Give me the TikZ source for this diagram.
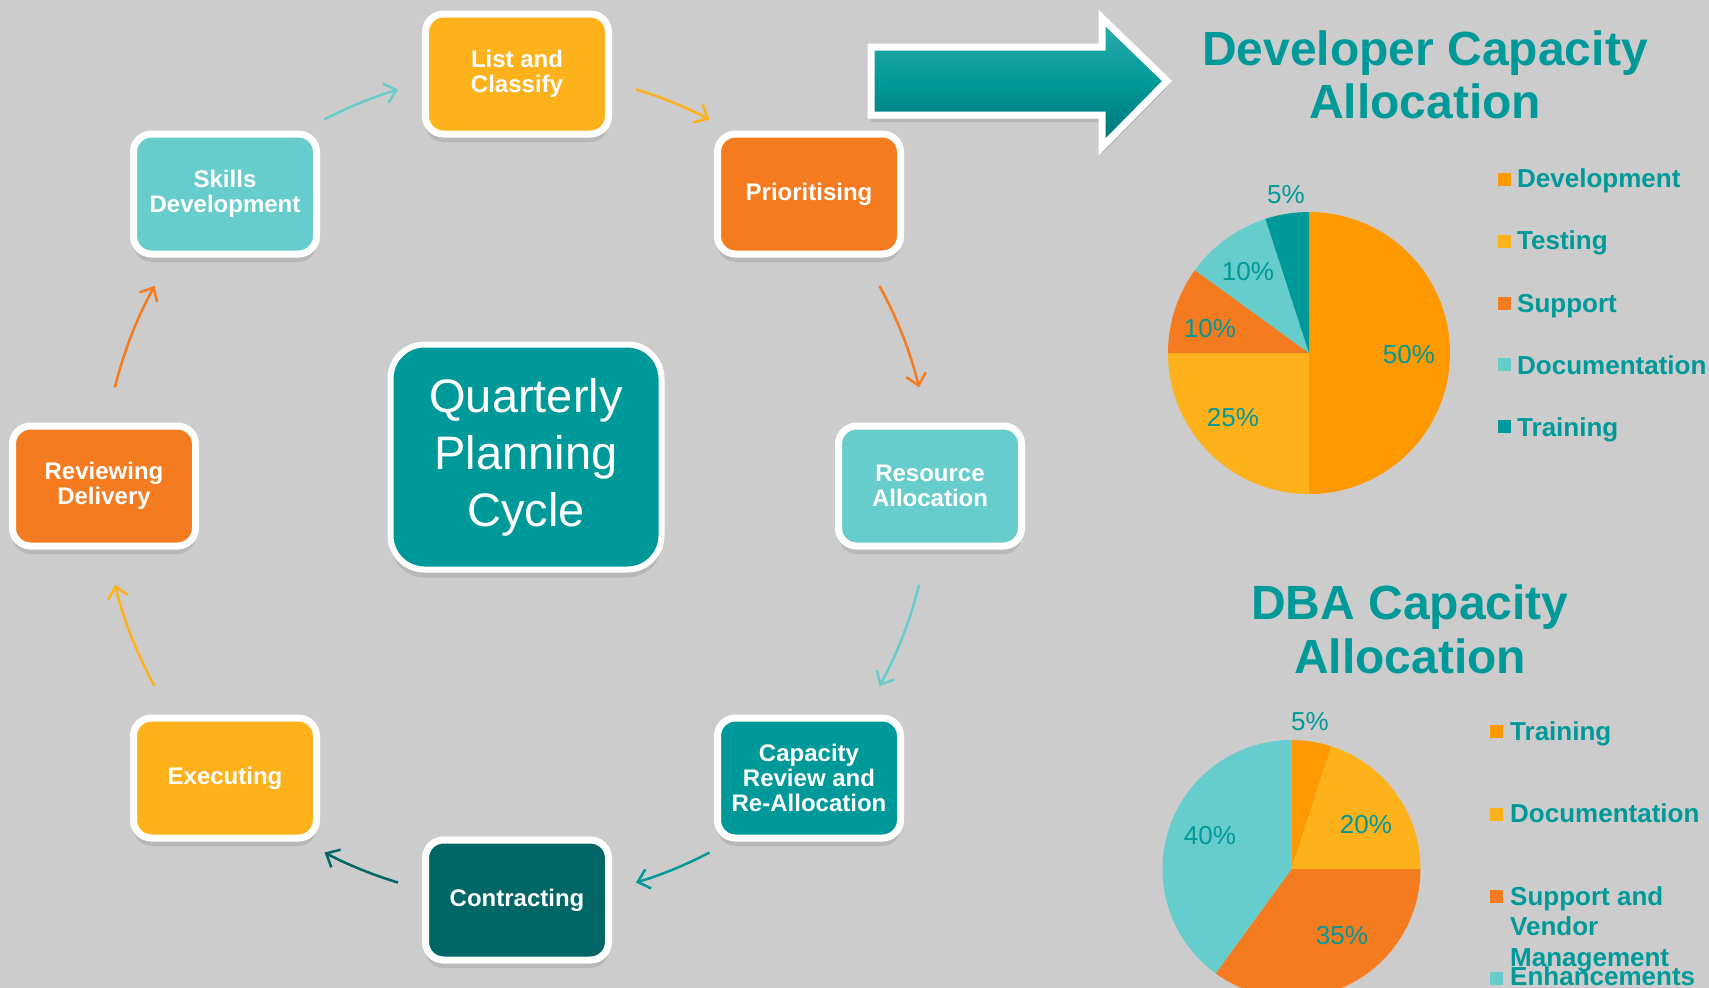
\documentclass[tikz,border=0pt]{standalone}
\usepackage{fontspec}
\setmainfont{Liberation Sans}
\usetikzlibrary{shadows,arrows.meta,calc}
\definecolor{bg}{HTML}{CCCCCC}
\definecolor{amber}{HTML}{FDB11B}
\definecolor{orng}{HTML}{F47B20}
\definecolor{cyanl}{HTML}{66CCCC}
\definecolor{teal1}{HTML}{009999}
\definecolor{teal2}{HTML}{006666}
\definecolor{devor}{HTML}{FF9900}
\begin{document}
\begin{tikzpicture}[x=1pt,y=-1pt,
  stepbox/.style={rounded corners=18pt, draw=white, line width=7pt,
    minimum width=183pt, minimum height=120pt, inner sep=0pt, align=center,
    text=white, font=\fontsize{24}{25}\bfseries\selectfont,
    drop shadow={shadow xshift=0pt, shadow yshift=-8pt, opacity=.25}},
  cyc/.style={line width=2.5pt, -{Straight Barb[length=11pt,width=20pt]}},
  leg/.style={anchor=base west, inner sep=0pt, text=teal1, font=\fontsize{26}{30.5}\bfseries\selectfont},
  pct/.style={inner sep=0pt, text=teal1, font=\fontsize{26}{30}\selectfont},
  ttl/.style={anchor=base, inner sep=0pt, text=teal1, font=\fontsize{48}{54}\bfseries\selectfont},
]
\useasboundingbox (0,0) rectangle (1709,988);
\clip (0,0) rectangle (1709,988);
\fill[bg] (0,0) rectangle (1709,988);

% cycle boxes
\node[stepbox, fill=amber] (lc) at (517,74) {List and\\Classify};
\node[stepbox, fill=orng] (prio) at (809,194) {Prioritising};
\node[stepbox, fill=cyanl] (res) at (930,486) {Resource\\Allocation};
\node[stepbox, fill=teal1] (cap) at (809,778) {Capacity\\Review and\\Re-Allocation};
\node[stepbox, fill=teal2] (contr) at (517,900) {Contracting};
\node[stepbox, fill=amber] (exec) at (225,778) {Executing};
\node[stepbox, fill=orng] (rev) at (104,486) {Reviewing\\Delivery};
\node[stepbox, fill=cyanl] (skills) at (225,194) {Skills\\Development};
\node[stepbox, fill=teal1, minimum width=271pt, minimum height=225pt,
  rounded corners=34pt, line width=6pt, font=\fontsize{47}{57}\selectfont] (qpc) at (526,457) {Quarterly\\Planning\\Cycle};

% cycle arrows (arcs of a circle round ctr)
\coordinate (ctr) at (517,486);
\coordinate (a1) at ($(ctr)+(-117.7:414)$);
\coordinate (a2) at ($(ctr)+(-73.3:414)$);
\coordinate (a3) at ($(ctr)+(-28.9:414)$);
\coordinate (a4) at ($(ctr)+(13.8:414)$);
\coordinate (a5) at ($(ctr)+(62.3:414)$);
\coordinate (a6) at ($(ctr)+(106.7:414)$);
\coordinate (a7) at ($(ctr)+(151.1:414)$);
\coordinate (a8) at ($(ctr)+(193.8:414)$);
\draw[cyc, cyanl] (a1) arc[start angle=-117.7, end angle=-106.7, radius=414];
\draw[cyc, amber] (a2) arc[start angle=-73.3, end angle=-62.3, radius=414];
\draw[cyc, orng]  (a3) arc[start angle=-28.9, end angle=-13.8, radius=414];
\draw[cyc, cyanl] (a4) arc[start angle=13.8, end angle=28.9, radius=414];
\draw[cyc, teal1] (a5) arc[start angle=62.3, end angle=73.3, radius=414];
\draw[cyc, teal2] (a6) arc[start angle=106.7, end angle=117.7, radius=414];
\draw[cyc, amber] (a7) arc[start angle=151.1, end angle=166.2, radius=414];
\draw[cyc, orng]  (a8) arc[start angle=193.8, end angle=208.9, radius=414];

% big block arrow
\path[draw=white, line width=7pt, line join=miter,
  top color=teal1!80!white, bottom color=teal1!75!black, middle color=teal1,
  drop shadow={shadow xshift=0pt, shadow yshift=-7pt, opacity=.25}]
  (871,47) -- (1102,47) -- (1102,18) -- (1167,81) -- (1102,147) -- (1102,115) -- (871,115) -- cycle;

% titles
\node[ttl] (t1a) at (1425,65) {Developer Capacity};
\node[ttl] (t1b) at (1425,118) {Allocation};
\node[ttl] (t2a) at (1410,619) {DBA Capacity};
\node[ttl] (t2b) at (1410,673) {Allocation};

% pie 1
\coordinate (p1) at (1309,353);
\fill[devor] (p1) -- ++(-90:141) arc[start angle=-90, end angle=90, radius=141] -- cycle;
\fill[amber] (p1) -- ++(90:141) arc[start angle=90, end angle=180, radius=141] -- cycle;
\fill[orng]  (p1) -- ++(180:141) arc[start angle=180, end angle=216, radius=141] -- cycle;
\fill[cyanl] (p1) -- ++(216:141) arc[start angle=216, end angle=252, radius=141] -- cycle;
\fill[teal1] (p1) -- ++(252:141) arc[start angle=252, end angle=270, radius=141] -- cycle;
\node[pct] (l50) at (1409,355) {50\%};
\node[pct] (l25) at (1233,418) {25\%};
\node[pct] (l10a) at (1210,329) {10\%};
\node[pct] (l10b) at (1248,272) {10\%};
\node[pct] (l5a) at (1286,195) {5\%};

% legend 1
\fill[devor] (1498,172.5) rectangle ++(13,13);
\fill[amber] (1498,234.5) rectangle ++(13,13);
\fill[orng]  (1498,296.5) rectangle ++(13,13);
\fill[cyanl] (1498,357.5) rectangle ++(13,13);
\fill[teal1] (1498,419.5) rectangle ++(13,13);
\node[leg] (g1) at (1517,187) {Development};
\node[leg] (g2) at (1517,249.5) {Testing};
\node[leg] (g3) at (1517,312) {Support};
\node[leg] (g4) at (1517,374) {Documentation};
\node[leg] (g5) at (1517,436) {Training};

% pie 2
\coordinate (p2) at (1291.5,869);
\fill[devor] (p2) -- ++(-90:129) arc[start angle=-90, end angle=-72, radius=129] -- cycle;
\fill[amber] (p2) -- ++(-72:129) arc[start angle=-72, end angle=0, radius=129] -- cycle;
\fill[orng]  (p2) -- ++(0:129) arc[start angle=0, end angle=126, radius=129] -- cycle;
\fill[cyanl] (p2) -- ++(126:129) arc[start angle=126, end angle=270, radius=129] -- cycle;
\node[pct] (m5) at (1310,722) {5\%};
\node[pct] (m20) at (1366,825) {20\%};
\node[pct] (m35) at (1342,936) {35\%};
\node[pct] (m40) at (1210,836) {40\%};

% legend 2
\fill[devor] (1490,724.5) rectangle ++(13,13);
\fill[amber] (1490,807.5) rectangle ++(13,13);
\fill[orng]  (1490,889.5) rectangle ++(13,13);
\fill[cyanl] (1490,971.5) rectangle ++(13,13);
\node[leg] (h1) at (1510,740) {Training};
\node[leg] (h2) at (1510,822.5) {Documentation};
\node[leg] (h3a) at (1510,905) {Support and};
\node[leg] (h3b) at (1510,935.5) {Vendor};
\node[leg] (h3c) at (1510,966) {Management};
\node[leg] (h4) at (1510,985) {Enhancements};
\end{tikzpicture}
\end{document}
